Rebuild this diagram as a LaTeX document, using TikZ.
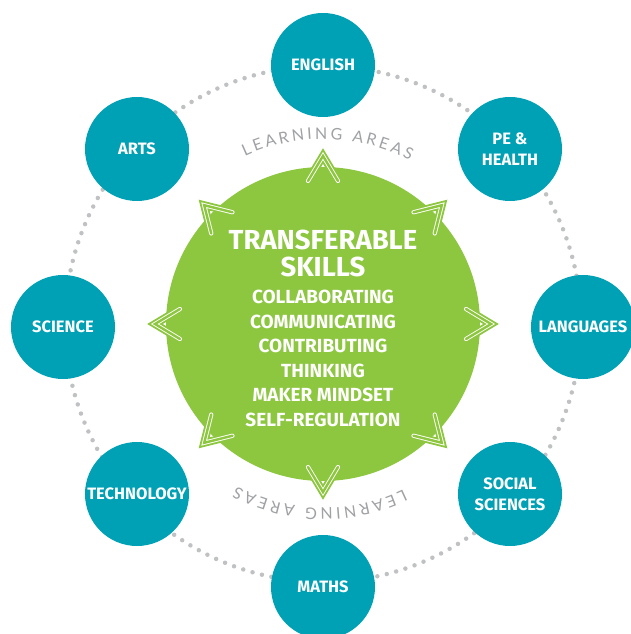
\documentclass[tikz,border=0pt]{standalone}
\usepackage{fontspec}
\setmainfont{Fira Sans}
\newfontfamily\areafont{Lato}
\usetikzlibrary{positioning,decorations.text}

\definecolor{areateal}{HTML}{00A1B5}
\definecolor{leaf}{HTML}{8DC63F}
\definecolor{dotgray}{HTML}{BFC1C3}
\definecolor{areagray}{HTML}{9FA1A4}

\begin{document}
\begin{tikzpicture}[
    x=1pt, y=1pt,
    area/.style={circle, fill=areateal, minimum size=104pt, inner sep=0pt, text=white, align=center, font=\bfseries\fontsize{16.5}{21}\selectfont},
    hub/.style={circle, fill=leaf, minimum size=314pt, inner sep=0pt},
    title/.style={text=white, align=center, inner sep=0pt, font=\bfseries\fontsize{27.5}{27}\selectfont},
    skills/.style={text=white, align=center, inner sep=0pt, font=\bfseries\fontsize{19}{24.5}\selectfont},
    ringdots/.style={draw=dotgray, line width=4.5pt, line cap=round, dash pattern=on 0pt off 9.7pt},
    chevron/.style={draw=leaf, line width=8pt, line join=miter, line cap=round, postaction={draw=white, line width=0.9pt, double=leaf, double distance=2.4pt}},
    arclabel/.style={decorate, decoration={text along path, text align={fit to path}, text color=areagray, text={|\areafont\fontsize{16}{16}\selectfont|LEARNING AREAS}}}
  ]
  \useasboundingbox (-323,-310) rectangle (307,324);

  % Dotted ring
  \draw[ringdots] (0,0) circle[radius=258];

  % Transferable skills
  \node[hub] (hub) at (0,0) {};
  \node[title] (title) at (0,70.5) {TRANSFERABLE\\SKILLS};
  \node[skills, below=13pt of title] (skills) {COLLABORATING\\COMMUNICATING\\CONTRIBUTING\\THINKING\\MAKER MINDSET\\SELF-REGULATION};

  % Chevrons
  \draw[chevron, rotate=90] (143,15) -- (168,0) -- (143,-15);
  \draw[chevron, rotate=45] (143,15) -- (168,0) -- (143,-15);
  \draw[chevron, rotate=0] (143,15) -- (168,0) -- (143,-15);
  \draw[chevron, rotate=-45] (143,15) -- (168,0) -- (143,-15);
  \draw[chevron, rotate=-90] (143,15) -- (168,0) -- (143,-15);
  \draw[chevron, rotate=-135] (143,15) -- (168,0) -- (143,-15);
  \draw[chevron, rotate=180] (143,15) -- (168,0) -- (143,-15);
  \draw[chevron, rotate=135] (143,15) -- (168,0) -- (143,-15);

  % Learning areas labels
  \path[arclabel] (115:185) arc[start angle=115, end angle=62, radius=185];
  \path[arclabel] (-64:184) arc[start angle=-64, end angle=-118, radius=184];

  % Learning areas
  \node[area] (english) at (0,259) {ENGLISH};
  \node[area] (pehealth) at (187,175) {PE \&\\HEALTH};
  \node[area] (languages) at (260,-3) {LANGUAGES};
  \node[area] (social) at (187,-170) {SOCIAL\\SCIENCES};
  \node[area] (maths) at (0,-263) {MATHS};
  \node[area] (technology) at (-186,-170) {TECHNOLOGY};
  \node[area] (science) at (-260,-3) {SCIENCE};
  \node[area] (arts) at (-186,175) {ARTS};

\end{tikzpicture}
\end{document}
